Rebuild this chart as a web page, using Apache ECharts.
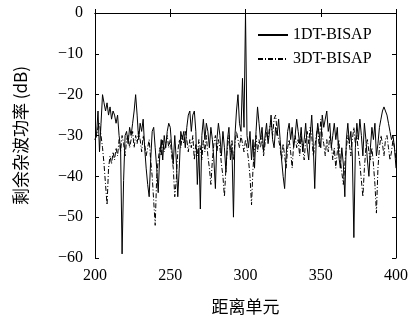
<!DOCTYPE html>
<html>
<head>
<meta charset="utf-8">
<script src="https://cdn.jsdelivr.net/npm/echarts@6/dist/echarts.min.js"></script>
<style>
  html, body { margin: 0; padding: 0; background: #fff; }
  #main { width: 418px; height: 320px; }
</style>
</head>
<body>
<div id="main"></div>
<script>
// range cells 200..400, one value per cell
const xStart = 200;
const seriesNames = ['1DT-BISAP', '3DT-BISAP'];
const xTicks = [200, 250, 300, 350, 400];
const yTicks = [-60, -50, -40, -30, -20, -10, 0];

const dt1 = [
  -31, -30, -24, -34, -27, -20, -22, -24, -22, -25, -23, -26, -24, -25, -27, -25, -30, -33, -59, -41,
  -30, -29, -32, -28, -30, -27, -24, -20, -25, -31, -27, -29, -26, -33, -38, -42, -45, -36, -29, -28,
  -33, -38, -44, -35, -31, -36, -30, -33, -29, -27, -28, -33, -37, -30, -36, -45, -38, -29, -31, -29,
  -33, -28, -25, -24, -29, -25, -24, -29, -42, -33, -48, -30, -26, -31, -27, -29, -33, -28, -31, -36,
  -43, -31, -27, -30, -35, -29, -33, -39, -31, -28, -36, -33, -50, -30, -24, -20, -27, -29, -16, -28,
  0, -30, -33, -29, -36, -31, -38, -29, -23, -27, -31, -28, -34, -30, -27, -32, -29, -25, -31, -33,
  -28, -30, -26, -31, -36, -40, -43, -35, -29, -27, -31, -28, -33, -30, -26, -29, -32, -28, -34, -31,
  -27, -33, -36, -30, -25, -32, -43, -31, -27, -30, -33, -25, -28, -26, -24, -29, -27, -33, -30, -27,
  -31, -28, -35, -38, -33, -37, -45, -31, -27, -32, -29, -35, -55, -33, -27, -31, -26, -30, -35, -27,
  -31, -36, -40, -33, -28, -31, -27, -35, -32, -28, -26, -24, -23, -24, -25, -27, -29, -31, -30, -33,
  -38
];

const dt3 = [
  -31, -30, -28, -27, -30, -33, -37, -42, -47, -38, -35, -37, -34, -36, -33, -35, -31, -34, -30, -32,
  -35, -31, -30, -33, -31, -29, -33, -30, -32, -29, -31, -34, -30, -32, -35, -33, -31, -36, -40, -46,
  -52, -40, -36, -33, -35, -31, -34, -32, -30, -33, -31, -35, -38, -45, -41, -34, -31, -33, -30, -32,
  -29, -31, -34, -31, -33, -30, -36, -32, -35, -31, -33, -36, -31, -34, -30, -35, -38, -42, -36, -32,
  -30, -34, -31, -33, -37, -40, -45, -38, -33, -30, -34, -31, -36, -32, -29, -31, -33, -30, -32, -34,
  -31, -33, -36, -40, -47, -38, -33, -30, -34, -31, -33, -30, -35, -32, -29, -31, -28, -27, -30, -26,
  -25, -29, -31, -33, -36, -32, -35, -38, -33, -31, -34, -38, -32, -30, -33, -31, -35, -30, -33, -36,
  -31, -29, -32, -28, -30, -35, -33, -30, -28, -33, -26, -30, -32, -35, -31, -34, -30, -32, -36, -33,
  -38, -34, -31, -36, -39, -42, -37, -33, -30, -32, -35, -31, -28, -32, -30, -34, -37, -41, -45, -38,
  -33, -31, -34, -36, -33, -37, -42, -49, -38, -33, -30, -32, -35, -31, -30, -33, -36, -34, -31, -33,
  -36
];

const toPairs = arr => arr.map((v, i) => [xStart + i, v]);
const serif = '"Liberation Serif", "DejaVu Serif", serif';
const cjk = '"Noto Sans CJK SC", "Liberation Serif", serif';
const fmtMinus = v => String(v).replace('-', '\u2212');

var chart = echarts.init(document.getElementById('main'), null, { renderer: 'canvas' });

const axisLine = { show: true, lineStyle: { color: '#000', width: 1 } };
const tickIn = { show: true, inside: true, length: 4, lineStyle: { color: '#000' } };

var option = {
  backgroundColor: '#fff',
  animation: false,
  grid: { left: 95, right: 22, top: 13, bottom: 60 },
  legend: {
    orient: 'vertical',
    left: 252,
    top: 22,
    itemWidth: 30,
    itemHeight: 10,
    itemGap: 8,
    itemStyle: { opacity: 0 },
    textStyle: { fontFamily: serif, fontSize: 16, color: '#000' },
    data: seriesNames
  },
  xAxis: [
    {
      type: 'value', min: 200, max: 400, interval: 50,
      name: '距离单元', nameLocation: 'middle', nameGap: 40,
      nameTextStyle: { fontFamily: cjk, fontSize: 17, color: '#000' },
      axisLine: axisLine, axisTick: tickIn, splitLine: { show: false },
      axisLabel: { fontFamily: serif, fontSize: 16, color: '#000', margin: 10 }
    },
    {
      type: 'value', position: 'top', min: 200, max: 400, interval: 50,
      axisLine: axisLine, axisTick: tickIn, splitLine: { show: false },
      axisLabel: { show: false }
    }
  ],
  yAxis: [
    {
      type: 'value', min: -60, max: 0, interval: 10,
      name: '剩余杂波功率 (dB)', nameLocation: 'middle', nameGap: 66,
      nameTextStyle: { fontFamily: cjk, fontSize: 17, color: '#000' },
      axisLine: axisLine, axisTick: tickIn, splitLine: { show: false },
      axisLabel: { fontFamily: serif, fontSize: 16, color: '#000', margin: 12, formatter: fmtMinus }
    },
    {
      type: 'value', position: 'right', min: -60, max: 0, interval: 10,
      axisLine: axisLine, axisTick: tickIn, splitLine: { show: false },
      axisLabel: { show: false }
    }
  ],
  series: [
    {
      name: seriesNames[0], type: 'line', showSymbol: false, symbol: 'none',
      lineStyle: { color: '#000', width: 1 },
      itemStyle: { color: '#000' },
      data: toPairs(dt1)
    },
    {
      name: seriesNames[1], type: 'line', showSymbol: false, symbol: 'none',
      lineStyle: { color: '#000', width: 1, type: [5, 2, 1, 2] },
      itemStyle: { color: '#000' },
      data: toPairs(dt3)
    }
  ]
};

chart.setOption(option);
</script>
</body>
</html>
